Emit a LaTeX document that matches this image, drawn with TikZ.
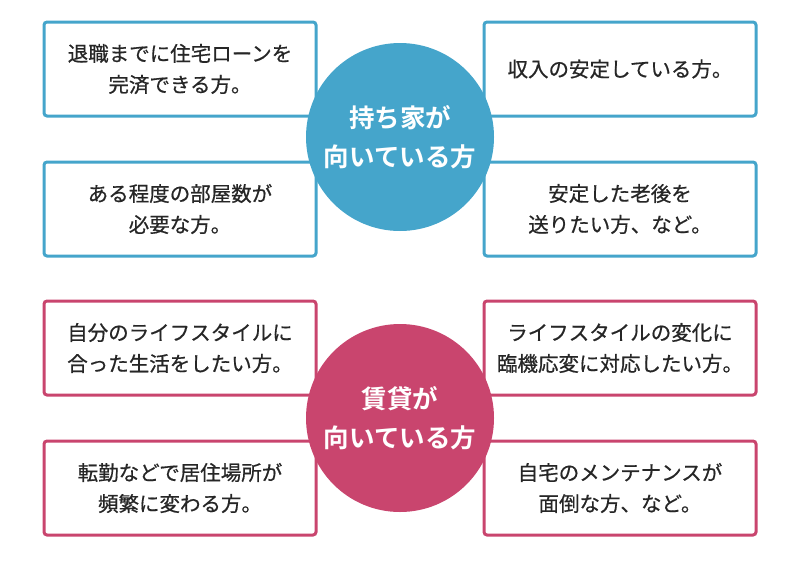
\documentclass[tikz,border=0pt]{standalone}
\usepackage{fontspec}
\setmainfont{Noto Sans CJK JP}[FakeBold=0.6]
\newfontfamily\boldjp{Noto Sans CJK JP Bold}
\definecolor{ownblue}{HTML}{45A5CB}
\definecolor{rentpink}{HTML}{C9456E}
\tikzset{
  casebox/.style={draw=#1, line width=3pt, rounded corners=3pt, fill=white,
    minimum width=272pt, minimum height=94pt, align=center, inner sep=0pt,
    font=\fontsize{20.5pt}{31pt}\selectfont, text=black!85},
  sumcircle/.style={circle, fill=#1, minimum size=188pt, inner sep=0pt,
    align=center, text=white, font=\boldjp\fontsize{25.5pt}{39pt}\selectfont}
}
\begin{document}
\begin{tikzpicture}[x=1pt,y=-1pt]
\useasboundingbox (0,0) rectangle (800,560);
% own house
\node (own1) [casebox=ownblue] at (180,69) {退職までに住宅ローンを\\完済できる方。};
\node (own2) [casebox=ownblue] at (620,69) {収入の安定している方。};
\node (own3) [casebox=ownblue] at (180,209) {ある程度の部屋数が\\必要な方。};
\node (own4) [casebox=ownblue] at (620,209) {安定した老後を\\送りたい方、など。};
\node (own) [sumcircle=ownblue] at (400,137) {持ち家が\\向いている方};
% rent
\node (rent1) [casebox=rentpink] at (180,348) {自分のライフスタイルに\\合った生活をしたい方。};
\node (rent2) [casebox=rentpink] at (620,348) {ライフスタイルの変化に\\臨機応変に対応したい方。};
\node (rent3) [casebox=rentpink] at (180,488) {転勤などで居住場所が\\頻繁に変わる方。};
\node (rent4) [casebox=rentpink] at (620,488) {自宅のメンテナンスが\\面倒な方、など。};
\node (rent) [sumcircle=rentpink] at (400,418) {賃貸が\\向いている方};
\end{tikzpicture}
\end{document}
